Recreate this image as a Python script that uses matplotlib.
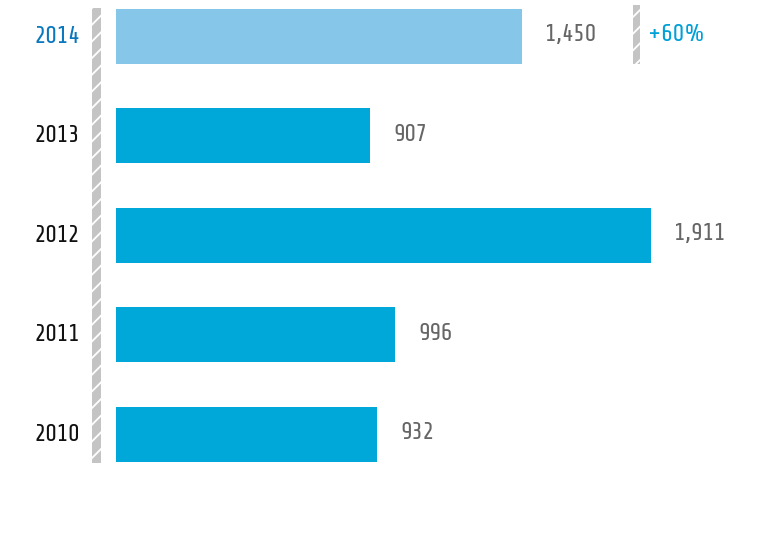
import matplotlib
matplotlib.use("Agg")
import matplotlib.pyplot as plt
from matplotlib.patches import Rectangle

years = ["2010", "2011", "2012", "2013", "2014"]
values = [932, 996, 1911, 907, 1450]
value_labels = ["932", "996", "1,911", "907", "1,450"]
growth_label = "+60%"

W, H = 778, 551
fig = plt.figure(figsize=(W / 100, H / 100), dpi=100)
fam = ["Share Tech", "Barlow Semi Condensed", "DejaVu Sans"]
plt.rcParams["hatch.linewidth"] = 1.3

px_per_unit = 0.28
x0 = 116
ax = fig.add_axes([x0 / W, 0, 1 - x0 / W, 1])
ax.set_xlim(0, (W - x0) / px_per_unit)
spacing = 99.5
c0 = 434.5
ax.set_ylim((c0 - H) / spacing, c0 / spacing)
ax.axis("off")

colors = ["#00a7d9"] * 4 + ["#86c6e8"]
ypos = list(range(len(years)))
ax.barh(ypos, values, height=55 / spacing, color=colors, linewidth=0)

off = 23 / px_per_unit
for y, v, lab in zip(ypos, values, value_labels):
    ax.text(v + off, y + 0.02, lab, ha="left", va="center", fontsize=17.5,
            color="#666666", family=fam)

for y, yr in zip(ypos, years):
    last = yr == years[-1]
    ax.text(-36 / px_per_unit, y, yr, ha="right", va="center", fontsize=17.5,
            color="#0a78be" if last else "#111111",
            fontweight="bold" if last else "normal", family=fam)

ax.text((648 - x0) / px_per_unit, 4.02, growth_label,
        ha="left", va="center", fontsize=17.5, color="#00a0d8", fontweight="bold", family=fam)

def strip(xl, xr, yt, yb):
    r = Rectangle((xl / W, 1 - yb / H), (xr - xl) / W, (yb - yt) / H,
                  transform=fig.transFigure, facecolor="#c4c4c4",
                  edgecolor="white", hatch="//", linewidth=0)
    fig.add_artist(r)

strip(92, 101, 8, 463)
strip(633, 640, 5, 64)

fig.savefig("out.png", dpi=100)
